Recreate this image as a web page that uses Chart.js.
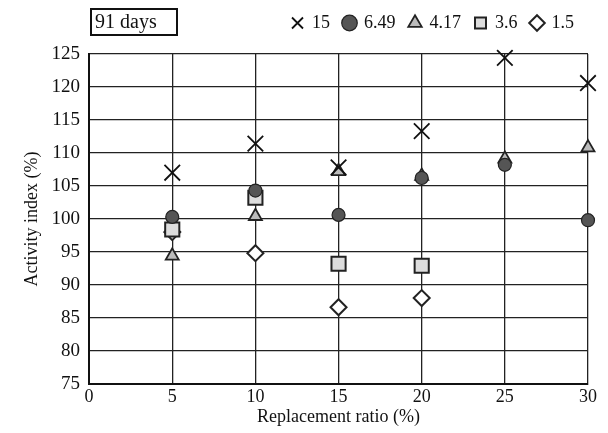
<!DOCTYPE html>
<html>
<head>
<meta charset="utf-8">
<script src="https://cdn.jsdelivr.net/npm/chart.js@4"></script>
<style>
  html, body { margin: 0; padding: 0; background: #fff; }
  #wrap { width: 608px; height: 433px; }
</style>
</head>
<body>
<div id="wrap"><canvas id="grafico"></canvas></div>
<script>
// Datos (índice de actividad a 91 días)
const ratios = [5, 10, 15, 20, 25, 30];
const serieLabels = ['15', '6.49', '4.17', '3.6', '1.5'];
const valores15 = [107.0, 111.4, 107.8, 113.3, 124.4, 120.6];
const valores649 = [100.3, 104.3, 100.6, 106.2, 108.2, 99.8];
const valores417 = [94.4, 100.4, 107.2, 106.5, 109.1, 110.8];
const valores36 = [98.4, 103.2, 93.2, 92.9, null, null];
const valores15b = [98.0, 94.8, 86.6, 88.0, null, null];
const yTicks = [75, 80, 85, 90, 95, 100, 105, 110, 115, 120, 125];
const xTicks = [0, 5, 10, 15, 20, 25, 30];

const FUENTE = "'Liberation Serif', 'Times New Roman', serif";

function puntos(vals) {
    return ratios.map((x, i) => ({ x: x, y: vals[i] })).filter(p => p.y !== null);
}

// Recuadro "91 days" y espacio extra bajo la leyenda
const cajaDias = {
    id: 'cajaDias',
    beforeInit(chart) {
        const fitOriginal = chart.legend.fit;
        chart.legend.fit = function () {
            fitOriginal.bind(chart.legend)();
            this.height += 12;
        };
    },
    afterDraw(chart) {
        const ctx = chart.ctx;
        ctx.save();
        ctx.strokeStyle = '#111';
        ctx.lineWidth = 2;
        ctx.strokeRect(91, 9, 86, 26);
        ctx.font = '20px ' + FUENTE;
        ctx.fillStyle = '#111';
        ctx.textBaseline = 'middle';
        ctx.textAlign = 'left';
        ctx.fillText('91 days', 95, 23);
        ctx.restore();
    }
};

new Chart(document.getElementById('grafico'), {
    type: 'scatter',
    data: {
        datasets: [
            {
                label: serieLabels[0], data: puntos(valores15),
                pointStyle: 'crossRot', pointRadius: 11, pointBorderWidth: 1.8,
                borderColor: '#111', backgroundColor: '#111'
            },
            {
                label: serieLabels[1], data: puntos(valores649),
                pointStyle: 'circle', pointRadius: 6.5, pointBorderWidth: 1.2,
                borderColor: '#222', backgroundColor: '#555'
            },
            {
                label: serieLabels[2], data: puntos(valores417),
                pointStyle: 'triangle', pointRadius: 7.5, pointBorderWidth: 1.8,
                borderColor: '#222', backgroundColor: '#bbb'
            },
            {
                label: serieLabels[3], data: puntos(valores36),
                pointStyle: 'rect', pointRadius: 10, pointBorderWidth: 2,
                borderColor: '#222', backgroundColor: '#ddd'
            },
            {
                label: serieLabels[4], data: puntos(valores15b),
                pointStyle: 'rectRot', pointRadius: 8, pointBorderWidth: 2,
                borderColor: '#222', backgroundColor: '#fff'
            }
        ]
    },
    options: {
        responsive: true,
        maintainAspectRatio: false,
        animation: false,
        clip: false,
        layout: { padding: { top: 0, right: 20, left: 21, bottom: 5 } },
        scales: {
            x: {
                type: 'linear',
                min: 0, max: 30,
                afterBuildTicks: axis => { axis.ticks = xTicks.map(v => ({ value: v })); },
                grid: { color: '#222', lineWidth: 1.3, drawTicks: false },
                border: { color: '#111', width: 2 },
                ticks: { color: '#111', font: { family: FUENTE, size: 18 }, padding: 3 },
                title: {
                    display: true, text: 'Replacement ratio (%)', color: '#111',
                    font: { family: FUENTE, size: 18 }, padding: { top: -5, bottom: 0 }
                }
            },
            y: {
                min: 75, max: 125,
                afterBuildTicks: axis => { axis.ticks = yTicks.map(v => ({ value: v })); },
                grid: { color: '#222', lineWidth: 1.3, drawTicks: false },
                border: { color: '#111', width: 2 },
                ticks: { color: '#111', font: { family: FUENTE, size: 19 }, padding: 9 },
                title: {
                    display: true, text: 'Activity index (%)', color: '#111',
                    font: { family: FUENTE, size: 18 }, padding: { top: 0, bottom: 0 }
                }
            }
        },
        plugins: {
            legend: {
                display: true,
                position: 'top',
                align: 'end',
                labels: {
                    usePointStyle: true,
                    color: '#111',
                    font: { family: FUENTE, size: 18 },
                    boxWidth: 11,
                    boxHeight: 11,
                    padding: 14
                }
            },
            tooltip: { enabled: false }
        }
    },
    plugins: [cajaDias]
});
</script>
</body>
</html>
